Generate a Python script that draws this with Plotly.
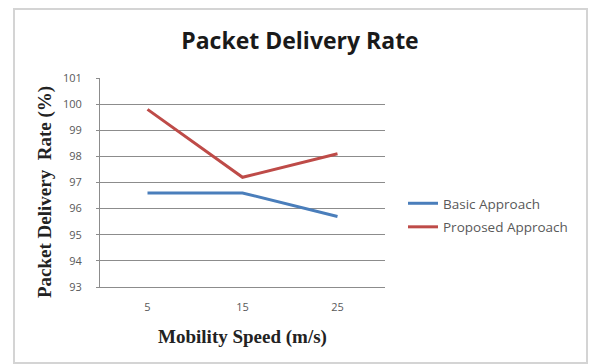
import plotly.graph_objects as go

# Mobility speeds (m/s) used as categories
speeds = ["5", "15", "25"]

# Packet delivery rate (%) per approach
basic_rate = [96.6, 96.6, 95.7]
proposed_rate = [99.8, 97.2, 98.1]

y_ticks = [93, 94, 95, 96, 97, 98, 99, 100, 101]

W, H = 590, 364
L, R, T, B = 100, 205, 78, 77

fig = go.Figure()
fig.add_trace(go.Scatter(
    x=speeds, y=basic_rate, mode="lines", name="Basic Approach",
    line=dict(color="#4A7EBB", width=3), legendgroup="a",
))
fig.add_trace(go.Scatter(
    x=speeds, y=proposed_rate, mode="lines", name="Proposed Approach",
    line=dict(color="#BE4B48", width=3), legendgroup="b",
))

pw = W - L - R
ph = H - T - B


def px_x(v):
    return (v - L) / pw


def px_y(v):
    return (H - B - v) / ph


# outer chart frame
fig.add_shape(
    type="rect", xref="paper", yref="paper",
    x0=px_x(14), x1=px_x(587), y0=px_y(363), y1=px_y(9),
    line=dict(color="#D4D4D4", width=2), fillcolor="rgba(0,0,0,0)",
    layer="below",
)

# vertical axis title, set a little below the plot's centre
fig.add_annotation(
    text="<b>Packet Delivery  Rate (%)</b>",
    xref="paper", yref="paper", x=px_x(45), y=px_y(192),
    xanchor="center", yanchor="middle", textangle=-90, showarrow=False,
    font=dict(family="Liberation Serif", size=19, color="#222222"),
)

fig.update_layout(
    width=W, height=H,
    margin=dict(l=L, r=R, t=T, b=B),
    paper_bgcolor="white", plot_bgcolor="white",
    title=dict(
        text="<b>Packet Delivery Rate</b>",
        x=px_x(300), xref="paper", xanchor="center",
        y=1 - 41 / H, yanchor="middle",
        font=dict(family="Open Sans", size=23, color="#1a1a1a"),
    ),
    legend=dict(
        x=px_x(403), xanchor="left", y=px_y(188), yanchor="top",
        font=dict(family="Open Sans", size=13.5, color="#595959"),
        tracegroupgap=3, bgcolor="rgba(0,0,0,0)",
    ),
    showlegend=True,
)

fig.update_xaxes(
    type="category", range=[-0.5, 2.5],
    showgrid=False, showline=True, linecolor="#8C8C8C", linewidth=1,
    ticks="", ticklabelstandoff=10,
    tickfont=dict(family="Open Sans", size=11, color="#595959"),
    title=dict(
        text="<b>Mobility Speed (m/s)</b>",
        font=dict(family="Liberation Serif", size=19, color="#222222"),
        standoff=16,
    ),
)

fig.update_yaxes(
    range=[93, 101], tickvals=y_ticks,
    showgrid=True, gridcolor="#8C8C8C", gridwidth=1,
    showline=True, linecolor="#8C8C8C", linewidth=1,
    ticks="outside", ticklen=3, tickcolor="#8C8C8C",
    ticklabelstandoff=12,
    zeroline=False,
    tickfont=dict(family="Open Sans", size=11, color="#595959"),
)

fig.write_html("out.html")
